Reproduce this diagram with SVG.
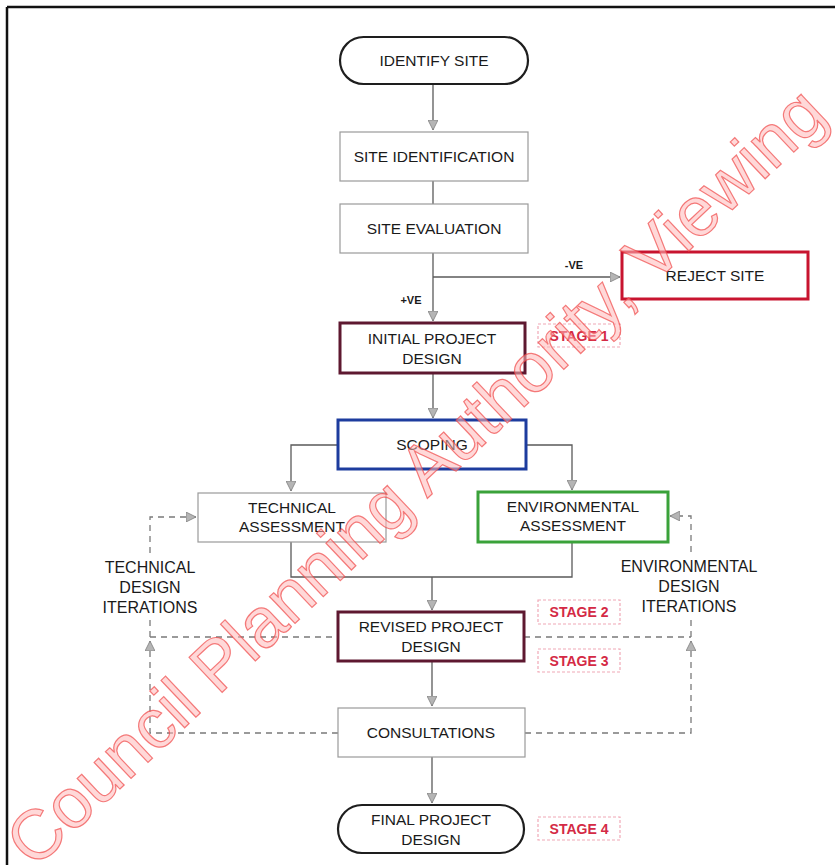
<svg xmlns="http://www.w3.org/2000/svg" width="835" height="865" viewBox="0 0 835 865">
<defs>
<style>
.t{font-family:"Liberation Sans",Arial,sans-serif;font-size:15.5px;fill:#1a1a1a;text-anchor:middle}
.side{font-family:"Liberation Sans",Arial,sans-serif;font-size:16px;fill:#1a1a1a;text-anchor:middle}
.ve{font-family:"Liberation Sans",Arial,sans-serif;font-size:11px;font-weight:bold;fill:#1a1a1a;text-anchor:middle}
.st{font-family:"Liberation Sans",Arial,sans-serif;font-size:14px;font-weight:bold;fill:#d42a45;text-anchor:middle}
.stb{fill:#fff;stroke:#f0a8b6;stroke-width:1.2;stroke-dasharray:3 2}
.plain{fill:#fff;stroke:#9a9a9a;stroke-width:1.2}
.pill{fill:#fff;stroke:#1e1e1e;stroke-width:2.2}
.con{fill:none;stroke:#5a5a5a;stroke-width:1.3}
.dash{fill:none;stroke:#7a7a7a;stroke-width:1.3;stroke-dasharray:6 5}
.wm{font-family:"Liberation Sans",Arial,sans-serif;font-size:70px;text-anchor:middle;fill:#ffb8b8;fill-opacity:0.55;stroke:#f04848;stroke-opacity:0.7;stroke-width:1.2}
</style>
<marker id="ah" viewBox="0 0 10 10" refX="10" refY="5" markerWidth="10" markerHeight="10" markerUnits="userSpaceOnUse" orient="auto">
<path d="M0,0 L10,5 L0,10 z" fill="#b5b5b5" stroke="#808080" stroke-width="0.8"/>
</marker>
</defs>
<rect width="835" height="865" fill="#fff"/>
<g id="frame">
<line x1="7" y1="7" x2="835" y2="7" stroke="#111" stroke-width="2.5"/>
<line x1="7" y1="7" x2="7" y2="865" stroke="#111" stroke-width="2.5"/>
</g>
<g id="connectors">
<path class="con" d="M433,84 V130" marker-end="url(#ah)"/>
<path class="con" d="M433,181 V204"/>
<path class="con" d="M433,253 V321" marker-end="url(#ah)"/>
<path class="con" d="M433,277 H620" marker-end="url(#ah)"/>
<path class="con" d="M433,373 V418" marker-end="url(#ah)"/>
<path class="con" d="M338,445 H291 V491" marker-end="url(#ah)"/>
<path class="con" d="M526,445 H572 V490" marker-end="url(#ah)"/>
<path class="con" d="M291,542 V577 H572 V542"/>
<path class="con" d="M432,577 V610" marker-end="url(#ah)"/>
<path class="con" d="M432,662 V706" marker-end="url(#ah)"/>
<path class="con" d="M432,757 V803" marker-end="url(#ah)"/>
<path class="dash" d="M150,637 H691"/>
<path class="dash" d="M338,733 H150 V641" marker-end="url(#ah)"/>
<path class="dash" d="M150,637 V616 M150,553 V517 H196" marker-end="url(#ah)"/>
<path class="dash" d="M525,733 H691 V641" marker-end="url(#ah)"/>
<path class="dash" d="M691,637 V617 M691,552 V516 H670" marker-end="url(#ah)"/>
<text class="ve" x="574" y="269">-VE</text>
<text class="ve" x="411" y="304">+VE</text>
</g>
<g id="identify-site">
<rect class="pill" x="340" y="37" width="188" height="47" rx="23.5"/>
<text class="t" x="434" y="66">IDENTIFY SITE</text>
</g>
<g id="site-identification">
<rect class="plain" x="340" y="132" width="188" height="49"/>
<text class="t" x="434" y="162">SITE IDENTIFICATION</text>
</g>
<g id="site-evaluation">
<rect class="plain" x="340" y="204" width="188" height="49"/>
<text class="t" x="434" y="234">SITE EVALUATION</text>
</g>
<g id="reject-site">
<rect x="622" y="252" width="186" height="47" fill="#fff" stroke="#c8142f" stroke-width="3"/>
<text class="t" x="715" y="281">REJECT SITE</text>
</g>
<g id="initial-project-design">
<rect x="340" y="323" width="185" height="50" fill="#fff" stroke="#5e1830" stroke-width="3"/>
<text class="t" x="432" y="344">INITIAL PROJECT</text>
<text class="t" x="432" y="364">DESIGN</text>
</g>
<g id="stage1">
<rect class="stb" x="538" y="324" width="82" height="23"/>
<text class="st" x="579" y="341">STAGE 1</text>
</g>
<g id="scoping">
<rect x="338" y="420" width="188" height="49" fill="#fff" stroke="#1d3c9e" stroke-width="3"/>
<text class="t" x="432" y="450">SCOPING</text>
</g>
<g id="technical-assessment">
<rect class="plain" x="198" y="493" width="188" height="49"/>
<text class="t" x="292" y="513">TECHNICAL</text>
<text class="t" x="292" y="532">ASSESSMENT</text>
</g>
<g id="environmental-assessment">
<rect x="478" y="492" width="190" height="50" fill="#fff" stroke="#3aa23a" stroke-width="3"/>
<text class="t" x="573" y="512">ENVIRONMENTAL</text>
<text class="t" x="573" y="531">ASSESSMENT</text>
</g>
<g id="technical-iterations">
<text class="side" x="150" y="573">TECHNICAL</text>
<text class="side" x="150" y="593">DESIGN</text>
<text class="side" x="150" y="613">ITERATIONS</text>
</g>
<g id="environmental-iterations">
<text class="side" x="689" y="572">ENVIRONMENTAL</text>
<text class="side" x="689" y="592">DESIGN</text>
<text class="side" x="689" y="612">ITERATIONS</text>
</g>
<g id="revised-project-design">
<rect x="338" y="612" width="186" height="49" fill="#fff" stroke="#5e1830" stroke-width="3"/>
<text class="t" x="431" y="632">REVISED PROJECT</text>
<text class="t" x="431" y="652">DESIGN</text>
</g>
<g id="stage2">
<rect class="stb" x="538" y="600" width="82" height="24"/>
<text class="st" x="579" y="617">STAGE 2</text>
</g>
<g id="stage3">
<rect class="stb" x="538" y="649" width="82" height="23"/>
<text class="st" x="579" y="666">STAGE 3</text>
</g>
<g id="consultations">
<rect class="plain" x="338" y="708" width="187" height="49"/>
<text class="t" x="431" y="738">CONSULTATIONS</text>
</g>
<g id="final-project-design">
<rect class="pill" x="338" y="805" width="186" height="48" rx="24"/>
<text class="t" x="431" y="825">FINAL PROJECT</text>
<text class="t" x="431" y="845">DESIGN</text>
</g>
<g id="stage4">
<rect class="stb" x="538" y="817" width="82" height="23"/>
<text class="st" x="579" y="834">STAGE 4</text>
</g>
<g id="watermark">
<text class="wm" x="432" y="494" transform="rotate(-43.4 432 494)">Council Planning Authority, Viewing</text>
</g>
</svg>
